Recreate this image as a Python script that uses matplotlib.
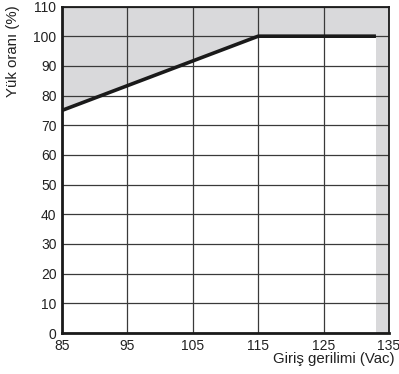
import matplotlib
matplotlib.use("Agg")
import matplotlib.pyplot as plt

plt.rcParams['font.family'] = ['Liberation Sans', 'DejaVu Sans']

# Derating curve: load ratio vs input voltage
voltage = [85, 115, 133]
load = [75, 100, 100]
x_ticks = [85, 95, 105, 115, 125, 135]
y_ticks = [0, 10, 20, 30, 40, 50, 60, 70, 80, 90, 100, 110]

shade = '#d9d9db'

fig = plt.figure(figsize=(3.99, 3.74), dpi=100)
ax = fig.add_axes([0.1554, 0.1096, 0.8196, 0.873])

# shaded out-of-range areas
ax.fill_between(voltage, load, 110, color=shade, lw=0, zorder=0)
ax.axvspan(voltage[-1], 135, color=shade, lw=0, zorder=0)

ax.set_xlim(85, 135)
ax.set_ylim(0, 110)
ax.set_xticks(x_ticks)
ax.set_yticks(y_ticks)
ax.grid(True, color='#3a3a3a', lw=0.9, zorder=1)
ax.set_axisbelow(False)
ax.tick_params(length=0, labelsize=10, pad=4, colors='#222222')

ax.plot(voltage, load, color='#1a1a1a', lw=2.6, solid_capstyle='butt', zorder=3)

for side in ['left', 'bottom']:
    ax.spines[side].set_linewidth(2.0)
for side in ['top', 'right']:
    ax.spines[side].set_linewidth(1.3)
for s in ax.spines.values():
    s.set_color('#1a1a1a')
    s.set_zorder(4)

ax.set_xlabel('Giriş gerilimi (Vac)', fontsize=10.8, color='#222222')
ax.xaxis.set_label_coords(1.018, -0.057, transform=ax.transAxes)
ax.xaxis.label.set_ha('right')
ax.xaxis.label.set_va('top')
ax.set_ylabel('Yük oranı (%)', fontsize=10.8, color='#222222')
ax.yaxis.set_label_coords(-0.151, 1.004, transform=ax.transAxes)
ax.yaxis.label.set_ha('right')
ax.yaxis.label.set_va('center')

fig.savefig('out.png', dpi=100)
